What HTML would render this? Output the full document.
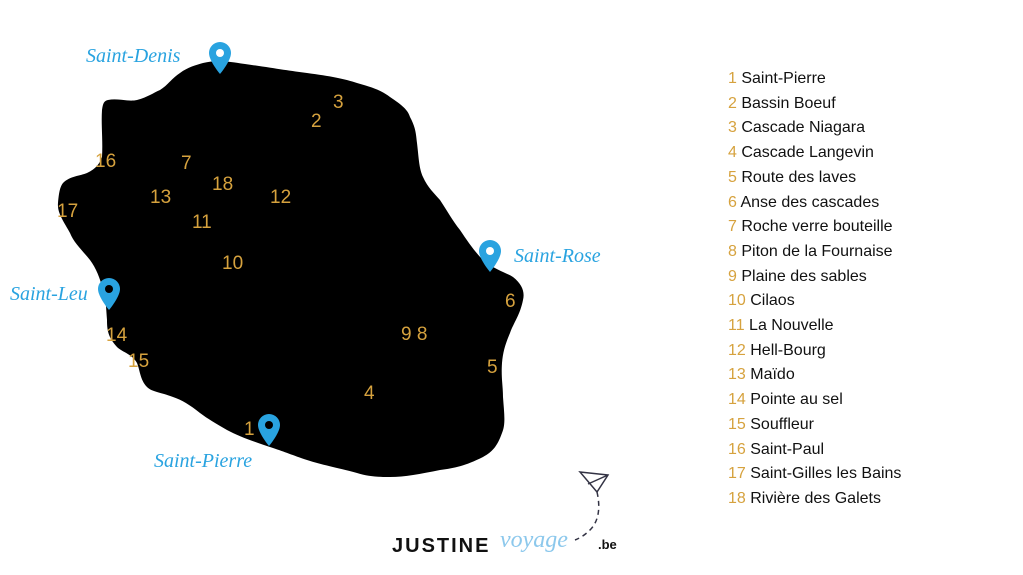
<!DOCTYPE html>
<html><head><meta charset="utf-8"><style>
body{margin:0;width:1023px;height:575px;background:#fff;position:relative;overflow:hidden;font-family:"Liberation Sans",sans-serif}
.n{position:absolute;color:#d6a23e;font-size:19px;font-family:"Liberation Sans",sans-serif}
.c{position:absolute;color:#29a3e0;font-size:19px;font-family:"Liberation Serif",serif;font-style:italic}
.leg{position:absolute;left:728px;top:67px;font-size:16px;line-height:24.7px;color:#111;font-family:"Liberation Sans",sans-serif}
.leg span{color:#d6a23e}
</style></head><body>
<svg width="1023" height="575" style="position:absolute;left:0;top:0">
<path fill="#000" d="M203,63 C215,60 227,61 245,64 C273,68 290,71 307,73 C330,76 345,79 357,83 C375,88 382,91 390,97 C402,105 408,110 410,117 C416,128 416,135 417,143 C419,160 419,168 423,177 C428,188 434,193 440,200 C448,212 452,220 460,230 C468,242 475,252 483,260 C495,270 505,272 513,277 C522,284 525,292 523,300 C520,315 514,322 510,333 C505,345 503,352 502,363 C501,378 503,386 503,397 C504,412 506,424 502,433 C497,447 492,452 483,457 C465,466 455,468 440,470 C420,474 405,477 390,477 C375,477 367,476 357,473 C335,467 322,465 307,460 C292,455 285,452 273,448 C255,442 240,437 227,430 C215,423 208,419 200,413 C190,405 182,400 173,397 C160,392 152,392 147,387 C140,380 140,370 137,363 C132,354 122,352 117,347 C108,337 107,330 107,320 C106,308 106,298 103,290 C100,278 96,268 90,260 C82,250 74,243 70,233 C64,222 57,213 58,203 C59,192 60,187 63,183 C70,176 80,176 87,173 C96,169 100,163 102,157 C103,140 101,125 102,110 C103,103 104,101 108,100 C118,98 128,102 137,100 C148,97 153,93 160,90 C168,85 172,78 180,73 C188,67 196,65 203,63 Z"/>
<g fill="#29a3e0">
<path d="M220,42 a11,11 0 0 1 11,11 c0,8 -11,21 -11,21 c0,0 -11,-13 -11,-21 a11,11 0 0 1 11,-11z"/>
<path d="M490,240 a11,11 0 0 1 11,11 c0,8 -11,21 -11,21 c0,0 -11,-13 -11,-21 a11,11 0 0 1 11,-11z"/>
<path d="M109,278 a11,11 0 0 1 11,11 c0,8 -11,21 -11,21 c0,0 -11,-13 -11,-21 a11,11 0 0 1 11,-11z"/>
<path d="M269,414 a11,11 0 0 1 11,11 c0,8 -11,21 -11,21 c0,0 -11,-13 -11,-21 a11,11 0 0 1 11,-11z"/>
</g>
<circle cx="220" cy="53" r="4" fill="#fff"/><circle cx="490" cy="251" r="4" fill="#fff"/>
<circle cx="109" cy="289" r="4" fill="#000"/><circle cx="269" cy="425" r="4" fill="#000"/>
<path d="M580,472 L608,475 L597,492 Z M588,484 L608,475" fill="none" stroke="#334" stroke-width="1.5"/>
<path d="M597,492 C600,505 600,520 590,530 C585,535 580,538 575,540" fill="none" stroke="#334" stroke-width="1.5" stroke-dasharray="5,4"/>
</svg>
<div class="c" style="left:86px;top:45px;font-size:20px">Saint-Denis</div>
<div class="c" style="left:514px;top:245px;font-size:20px">Saint-Rose</div>
<div class="c" style="left:10px;top:283px;font-size:20px">Saint-Leu</div>
<div class="c" style="left:154px;top:450px;font-size:20px">Saint-Pierre</div>
<div class="n" style="left:333px;top:92px">3</div>
<div class="n" style="left:311px;top:111px">2</div>
<div class="n" style="left:95px;top:151px">16</div>
<div class="n" style="left:181px;top:153px">7</div>
<div class="n" style="left:212px;top:174px">18</div>
<div class="n" style="left:150px;top:187px">13</div>
<div class="n" style="left:270px;top:187px">12</div>
<div class="n" style="left:57px;top:201px">17</div>
<div class="n" style="left:192px;top:212px">11</div>
<div class="n" style="left:222px;top:253px">10</div>
<div class="n" style="left:505px;top:291px">6</div>
<div class="n" style="left:401px;top:324px">9 8</div>
<div class="n" style="left:106px;top:325px">14</div>
<div class="n" style="left:128px;top:351px">15</div>
<div class="n" style="left:487px;top:357px">5</div>
<div class="n" style="left:364px;top:383px">4</div>
<div class="n" style="left:244px;top:419px">1</div>
<div class="leg">
<span>1</span> Saint-Pierre<br><span>2</span> Bassin Boeuf<br><span>3</span> Cascade Niagara<br><span>4</span> Cascade Langevin<br><span>5</span> Route des laves<br><span>6</span> Anse des cascades<br><span>7</span> Roche verre bouteille<br><span>8</span> Piton de la Fournaise<br><span>9</span> Plaine des sables<br><span>10</span> Cilaos<br><span>11</span> La Nouvelle<br><span>12</span> Hell-Bourg<br><span>13</span> Maïdo<br><span>14</span> Pointe au sel<br><span>15</span> Souffleur<br><span>16</span> Saint-Paul<br><span>17</span> Saint-Gilles les Bains<br><span>18</span> Rivière des Galets
</div>
<div style="position:absolute;left:392px;top:535px;font-size:20px;font-weight:900;letter-spacing:2px;color:#111">JUSTINE</div>
<div style="position:absolute;left:500px;top:527px;font-size:24px;font-style:italic;color:#8cc8ec;font-family:'Liberation Serif',serif">voyage</div>
<div style="position:absolute;left:598px;top:537px;font-size:13px;font-weight:bold;color:#111">.be</div>
</body></html>
